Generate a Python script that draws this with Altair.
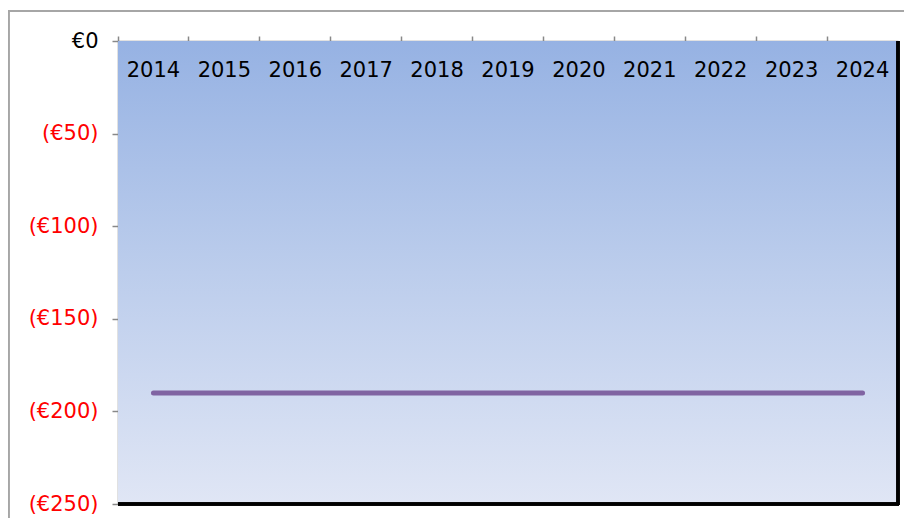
import altair as alt
import pandas as pd

years = ["2014", "2015", "2016", "2017", "2018", "2019", "2020", "2021", "2022", "2023", "2024"]
values = [-190, -190, -190, -190, -190, -190, -190, -190, -190, -190, -190]
y_ticks = [0, -50, -100, -150, -200, -250]

df = pd.DataFrame({"year": years, "value": values})

W, H = 780, 463
FONT = "DejaVu Sans"

xscale = alt.Scale(type="band", domain=years, paddingInner=0, paddingOuter=0)
yscale = alt.Scale(domain=[-250, 0], nice=False)

base = alt.Chart(df)

bg = base.mark_rect(
    fill={
        "gradient": "linear",
        "x1": 0, "x2": 0, "y1": 0, "y2": 1,
        "stops": [
            {"offset": 0, "color": "#96b2e3"},
            {"offset": 0.5, "color": "#bccdec"},
            {"offset": 1, "color": "#e0e6f5"},
        ],
    },
    stroke=None,
).encode(x=alt.value(0), x2=alt.value(W), y=alt.value(0), y2=alt.value(H))

outer_left = base.mark_rule(color="#a6a6a6", strokeWidth=1.5, clip=False).encode(
    x=alt.value(-109.5), y=alt.value(-30), y2=alt.value(H + 200)
)
outer_top = base.mark_rule(color="#a6a6a6", strokeWidth=1.5, clip=False).encode(
    x=alt.value(-109.5), x2=alt.value(W + 200), y=alt.value(-30)
)

line = base.mark_line(color="#8064a2", strokeWidth=5, strokeCap="round").encode(
    x=alt.X("year:N", scale=xscale, sort=years,
            axis=alt.Axis(orient="top", labels=False, title=None, bandPosition=0,
                          ticks=True, tickSize=5, tickColor="#888888", tickWidth=1.5,
                          domainColor="#888888", domainWidth=1.5, grid=False)),
    y=alt.Y("value:Q", scale=yscale,
            axis=alt.Axis(values=y_ticks, title=None, grid=False,
                          tickSize=6, tickColor="#888888", tickWidth=1.5,
                          domainColor="#888888", domainWidth=1.5,
                          labelFont=FONT, labelFontSize=21, labelPadding=14,
                          labelExpr="datum.value == 0 ? '€0\u00a0' : '(€' + abs(datum.value) + ')'",
                          labelColor=alt.condition("datum.value == 0", alt.value("black"), alt.value("red")))),
)

labels = base.mark_text(font=FONT, fontSize=21, color="black", baseline="alphabetic").encode(
    x=alt.X("year:N", scale=xscale, sort=years),
    y=alt.value(36),
    text="year:N",
)

right_edge = base.mark_rule(color="black", strokeWidth=2.5, clip=False).encode(
    x=alt.value(W), y=alt.value(0), y2=alt.value(H + 1)
)
bottom_edge = base.mark_rule(color="black", strokeWidth=2.5, clip=False).encode(
    x=alt.value(0), x2=alt.value(W + 1), y=alt.value(H)
)

chart = alt.layer(outer_left, outer_top, bg, line, labels, right_edge, bottom_edge).properties(
    width=W, height=H,
    autosize="none",
    padding={"left": 110, "top": 33, "right": 6, "bottom": 14},
).configure_view(stroke=None).configure(background="white")

chart.save("out.html", embed_options={"renderer": "svg", "actions": False})
